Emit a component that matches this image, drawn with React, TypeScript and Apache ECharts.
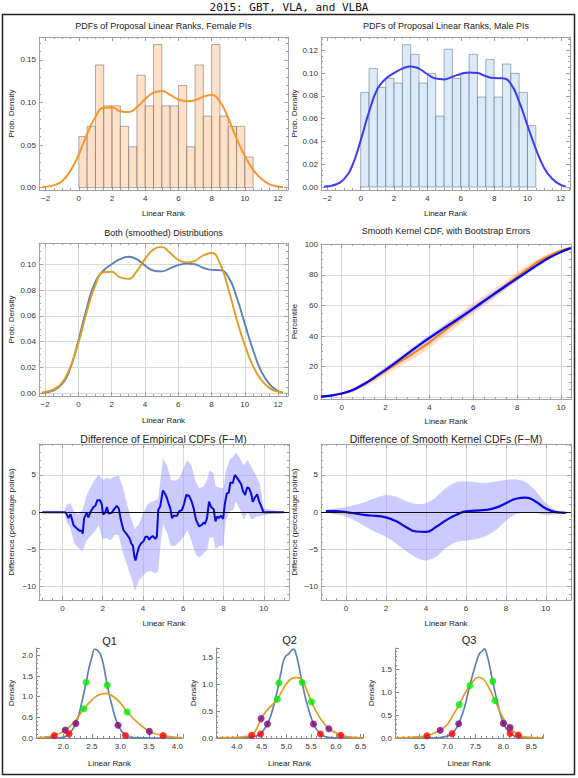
import React, { useEffect, useRef } from 'react';
import * as echarts from 'echarts';

const FONT = '"Liberation Sans", Arial, Helvetica, sans-serif';
const MONO = '"DejaVu Sans Mono", "Liberation Mono", monospace';

const SUPER_TITLE = '2015: GBT, VLA, and VLBA';
const PANEL_TITLES = [
  'PDFs of Proposal Linear Ranks, Female PIs',
  'PDFs of Proposal Linear Ranks, Male PIs',
  'Both (smoothed) Distributions',
  'Smooth Kernel CDF, with Bootstrap Errors',
  'Difference of Empirical CDFs (F\u2212M)',
  'Difference of Smooth Kernel CDFs (F\u2212M)',
  'Q1',
  'Q2',
  'Q3',
];

// ---- histograms (bin edges, densities) ----
const BIN_EDGES = [0, 0.5, 1, 1.5, 2, 2.5, 3, 3.5, 4, 4.5, 5, 5.5, 6, 6.5, 7, 7.5, 8, 8.5, 9, 9.5, 10, 10.5];
const FEMALE_HIST = [0.060, 0.072, 0.144, 0.096, 0.096, 0.072, 0.048, 0.132, 0.096, 0.168, 0.096, 0.096, 0.120, 0.048, 0.144, 0.084, 0.168, 0.084, 0.072, 0.072, 0.036];
const MALE_HIST = [0.083, 0.104, 0.0875, 0.0954, 0.0913, 0.125, 0.1165, 0.0913, 0.0998, 0.0623, 0.121, 0.0954, 0.0998, 0.1165, 0.079, 0.112, 0.079, 0.108, 0.0998, 0.083, 0.054];

// ---- smooth kernel PDFs ----
const F_X = [-2.2, -2, -1.5, -1, -0.5, 0, 0.5, 1, 1.5, 2, 2.5, 3, 3.5, 4, 4.5, 5, 5.5, 6, 6.5, 7, 7.5, 8, 8.5, 9, 9.5, 10, 10.5, 11, 11.5, 12, 12.3];
const F_PDF = [0.0005, 0.001, 0.003, 0.008, 0.02, 0.039, 0.063, 0.083, 0.0938, 0.0942, 0.0898, 0.0887, 0.0945, 0.104, 0.1115, 0.1135, 0.109, 0.1035, 0.1015, 0.1027, 0.1068, 0.1088, 0.101, 0.0815, 0.058, 0.0375, 0.021, 0.0103, 0.004, 0.0013, 0.0005];
const M_X = [-2.2, -2, -1.5, -1, -0.5, 0, 0.5, 1, 1.5, 2, 2.5, 3, 3.5, 4, 4.5, 5, 5.5, 6, 6.5, 7, 7.5, 8, 8.5, 9, 9.5, 10, 10.5, 11, 11.5, 12, 12.3];
const M_PDF = [0.0003, 0.0006, 0.0022, 0.007, 0.019, 0.041, 0.066, 0.086, 0.095, 0.1, 0.104, 0.1058, 0.104, 0.099, 0.0952, 0.0945, 0.0968, 0.0993, 0.1005, 0.1, 0.0973, 0.0957, 0.0955, 0.0906, 0.075, 0.054, 0.0336, 0.0168, 0.007, 0.0018, 0.0005];

// ---- smooth kernel CDFs with bootstrap bands (percent) ----
const CDF_X = [-0.95, -0.5, 0, 0.5, 1, 1.5, 2, 2.5, 3, 3.5, 4, 4.5, 5, 5.5, 6, 6.5, 7, 7.5, 8, 8.5, 9, 9.5, 10, 10.45];
const CDF_F = [0.4, 1.1, 2.4, 4.6, 8.2, 12.6, 17.3, 21.9, 26.3, 30.9, 35.9, 41.4, 47.0, 52.6, 58.0, 63.1, 68.2, 73.4, 78.9, 84.2, 89.0, 92.8, 95.9, 97.8];
const CDF_F_LO = [0.1, 0.6, 1.5, 3.2, 6.3, 10.3, 14.6, 18.9, 23.0, 27.4, 32.3, 37.7, 43.3, 48.9, 54.4, 59.6, 64.9, 70.3, 76.1, 81.8, 87.0, 91.3, 94.9, 97.2];
const CDF_F_HI = [0.7, 1.6, 3.3, 6.0, 10.1, 14.9, 20.0, 24.9, 29.6, 34.4, 39.5, 45.1, 50.7, 56.3, 61.6, 66.6, 71.5, 76.5, 81.7, 86.6, 91.0, 94.3, 96.9, 98.4];
const CDF_M = [0.4, 1.1, 2.5, 4.8, 8.5, 13.0, 18.0, 23.2, 28.5, 33.8, 38.8, 43.6, 48.3, 53.1, 58.0, 63.0, 68.0, 72.9, 77.7, 82.5, 87.2, 91.5, 95.0, 97.5];
const CDF_M_LO = [0.2, 0.8, 2.0, 4.0, 7.5, 11.7, 16.5, 21.5, 26.7, 31.9, 36.8, 41.6, 46.3, 51.1, 56.0, 61.1, 66.2, 71.2, 76.1, 81.1, 86.0, 90.6, 94.4, 97.1];
const CDF_M_HI = [0.6, 1.4, 3.0, 5.6, 9.5, 14.3, 19.5, 24.9, 30.3, 35.7, 40.8, 45.6, 50.3, 55.1, 60.0, 64.9, 69.8, 74.6, 79.3, 83.9, 88.4, 92.4, 95.6, 97.9];

// ---- difference of empirical CDFs (percentage points) ----
const EMP_X = [-1, 0.13, 0.22, 0.30, 0.41, 0.55, 0.68, 0.85, 0.96, 1.01, 1.08, 1.21, 1.29, 1.41, 1.54, 1.63, 1.74, 1.87, 1.96, 2.02, 2.12, 2.21, 2.29, 2.45, 2.57, 2.70, 2.80, 2.90, 3.03, 3.20, 3.33, 3.42, 3.50, 3.57, 3.63, 3.70, 3.80, 3.90, 4.03, 4.13, 4.23, 4.31, 4.39, 4.49, 4.61, 4.69, 4.76, 4.86, 4.99, 5.09, 5.19, 5.29, 5.36, 5.44, 5.52, 5.69, 5.79, 5.94, 6.05, 6.15, 6.29, 6.42, 6.52, 6.63, 6.78, 6.92, 7.01, 7.08, 7.18, 7.28, 7.38, 7.51, 7.60, 7.68, 7.76, 7.88, 7.98, 8.06, 8.16, 8.26, 8.34, 8.46, 8.56, 8.67, 8.77, 8.87, 8.97, 9.07, 9.17, 9.27, 9.37, 9.45, 9.57, 9.67, 9.77, 9.87, 9.98, 11];
const EMP_Y = [0, 0, -0.3, -0.8, -0.3, -1.7, -2.1, -2.5, -2.5, -2.9, -0.8, -0.1, -0.7, 0.1, 0.7, 0.8, 1.6, 1.6, 1.0, -0.3, -0.1, 0.7, -0.2, -0.1, 0.4, 0.85, 0.5, -1.0, -2.4, -3.0, -3.5, -4.2, -4.5, -5.9, -6.5, -5.7, -4.7, -4.2, -3.9, -3.3, -3.3, -3.7, -3.4, -3.2, -3.6, -3.3, 0.3, 0.8, 2.9, 2.5, 1.9, 1.0, 0.5, -0.8, -0.5, -0.5, 0.1, 0.3, 1.2, 2.3, 2.2, 1.4, 0.5, -1.0, -1.9, -1.7, -1.4, -1.6, -0.8, 1.4, 0.7, 0.4, -1.25, -0.6, -0.8, -0.5, -0.9, 1.0, 2.5, 2.6, 4.0, 3.9, 5.0, 4.6, 4.2, 3.8, 2.8, 2.3, 3.3, 3.2, 2.5, 1.4, 2.0, 2.4, 1.4, 0.8, 0, 0];
const EMP_BAND_X = [-1, 0.1, 0.2, 0.4, 0.6, 0.8, 1.0, 1.2, 1.4, 1.6, 1.8, 2.0, 2.2, 2.4, 2.6, 2.8, 3.0, 3.2, 3.4, 3.6, 3.8, 4.0, 4.2, 4.4, 4.6, 4.75, 4.9, 5.0, 5.2, 5.4, 5.6, 5.8, 6.0, 6.2, 6.4, 6.6, 6.8, 7.0, 7.2, 7.3, 7.5, 7.6, 7.8, 8.0, 8.1, 8.3, 8.5, 8.6, 8.8, 9.0, 9.2, 9.4, 9.6, 9.8, 10.0, 11];
const EMP_HI = [0, 0, 1.0, 1.2, 0.0, -0.3, 0.3, 2.2, 3.3, 4.3, 5.0, 4.3, 4.6, 4.5, 4.8, 4.9, 3.4, 1.2, -0.8, -2.3, -1.6, -0.2, 0.9, 1.4, 1.5, 1.8, 5.0, 7.2, 6.2, 4.3, 4.2, 4.6, 5.8, 7.0, 6.3, 4.2, 3.2, 3.4, 4.5, 5.6, 5.2, 3.5, 3.3, 3.2, 5.4, 7.0, 7.5, 8.0, 7.3, 6.3, 7.0, 6.0, 5.0, 3.8, 0.5, 0];
const EMP_LO = [0, 0, -1.3, -2.2, -4.2, -4.8, -5.3, -3.8, -3.2, -2.6, -1.8, -3.6, -3.5, -3.8, -3.0, -3.1, -5.5, -7.0, -8.6, -10.6, -9.2, -8.5, -8.0, -7.9, -8.2, -8.0, -3.6, -1.6, -2.8, -4.6, -4.5, -4.0, -3.4, -2.4, -3.8, -5.6, -6.1, -5.6, -5.0, -3.4, -3.4, -5.0, -4.5, -4.5, -1.2, 0.1, 0.4, 1.5, 0.5, -1.0, 0.0, -1.0, -0.6, -0.6, -0.4, 0];

// ---- difference of smooth kernel CDFs ----
const SM_X = [-1, -0.5, 0, 0.5, 1, 1.5, 2, 2.5, 3, 3.5, 4, 4.5, 5, 5.5, 6, 6.5, 7, 7.5, 8, 8.5, 9, 9.5, 10, 10.5, 11];
const SM_Y = [0.15, 0.15, 0.0, -0.2, -0.4, -0.5, -0.7, -1.2, -2.0, -2.6, -2.65, -2.0, -1.1, -0.4, 0.1, 0.2, 0.3, 0.6, 1.2, 1.8, 1.95, 1.4, 0.5, 0.0, -0.1];
const SM_HI = [0.3, 0.5, 0.7, 1.0, 1.4, 1.9, 2.3, 2.1, 1.5, 1.1, 1.2, 2.0, 3.2, 4.0, 4.1, 4.0, 3.9, 4.1, 4.3, 4.4, 4.0, 2.8, 1.2, 0.3, 0.0];
const SM_LO = [0.0, -0.3, -0.6, -1.2, -2.0, -2.7, -3.3, -4.2, -5.2, -6.1, -6.5, -6.0, -4.8, -4.0, -3.8, -3.6, -3.2, -2.4, -1.2, -0.3, 0.0, -0.1, -0.4, -0.3, -0.1];

// ---- quartile densities ----
const Q1_BX = [1.55, 1.9, 2.0, 2.1, 2.22, 2.3, 2.4, 2.45, 2.5, 2.55, 2.6, 2.65, 2.7, 2.77, 2.85, 2.96, 3.09, 3.2, 3.4, 4.08];
const Q1_BY = [0, 0.002, 0.015, 0.1, 0.35, 0.72, 1.35, 1.7, 1.95, 2.15, 2.12, 2.03, 1.8, 1.28, 0.8, 0.31, 0.06, 0.015, 0.001, 0];
const Q1_OX = [1.55, 1.84, 2.035, 2.2, 2.36, 2.5, 2.6, 2.75, 2.9, 3.0, 3.12, 3.3, 3.51, 3.75, 4.0, 4.08];
const Q1_OY = [0.01, 0.06, 0.19, 0.4, 0.71, 0.92, 1.03, 1.08, 0.98, 0.85, 0.63, 0.38, 0.16, 0.06, 0.015, 0.01];
const Q1_GREEN = [[2.40, 1.35], [2.77, 1.28], [2.36, 0.71], [3.12, 0.63]];
const Q1_PURPLE = [[2.22, 0.35], [2.96, 0.31], [2.035, 0.19], [3.51, 0.16]];
const Q1_RED = [[2.1, 0.10], [3.09, 0.06], [1.84, 0.06], [3.75, 0.06]];

const Q2_BX = [3.6, 4.2, 4.4, 4.48, 4.62, 4.7, 4.8, 4.85, 4.9, 4.95, 5.0, 5.05, 5.1, 5.15, 5.2, 5.25, 5.32, 5.4, 5.55, 5.69, 5.8, 6.0, 6.55];
const Q2_BY = [0, 0.005, 0.04, 0.074, 0.26, 0.45, 0.8, 1.02, 1.25, 1.45, 1.53, 1.56, 1.62, 1.65, 1.55, 1.35, 1.03, 0.7, 0.26, 0.074, 0.02, 0.003, 0];
const Q2_OX = [3.6, 4.0, 4.2, 4.3, 4.4, 4.49, 4.6, 4.7, 4.82, 4.9, 5.0, 5.1, 5.2, 5.3, 5.4, 5.51, 5.6, 5.7, 5.86, 6.0, 6.1, 6.3, 6.55];
const Q2_OY = [0.005, 0.01, 0.03, 0.05, 0.17, 0.36, 0.5, 0.6, 0.72, 0.85, 1.0, 1.1, 1.12, 1.1, 0.92, 0.67, 0.5, 0.35, 0.17, 0.1, 0.05, 0.015, 0.005];
const Q2_GREEN = [[4.85, 1.02], [5.32, 1.03], [4.82, 0.72], [5.51, 0.67]];
const Q2_PURPLE = [[4.62, 0.26], [5.55, 0.26], [4.49, 0.36], [5.86, 0.17]];
const Q2_RED = [[4.48, 0.074], [5.69, 0.074], [4.30, 0.05], [6.10, 0.05]];

const Q3_BX = [6.06, 6.8, 7.0, 7.08, 7.15, 7.2, 7.3, 7.4, 7.5, 7.57, 7.62, 7.66, 7.7, 7.75, 7.81, 7.9, 8.0, 8.12, 8.2, 8.4, 8.71];
const Q3_BY = [0, 0.005, 0.04, 0.095, 0.2, 0.31, 0.65, 1.15, 1.6, 1.84, 1.9, 1.95, 1.85, 1.6, 1.24, 0.75, 0.32, 0.1, 0.04, 0.01, 0];
const Q3_OX = [6.06, 6.4, 6.63, 6.87, 7.0, 7.1, 7.21, 7.3, 7.4, 7.5, 7.56, 7.65, 7.75, 7.85, 7.95, 8.05, 8.12, 8.27, 8.4, 8.71];
const Q3_OY = [0.005, 0.02, 0.05, 0.17, 0.3, 0.5, 0.73, 0.95, 1.15, 1.3, 1.33, 1.28, 1.08, 0.82, 0.55, 0.33, 0.23, 0.065, 0.02, 0.005];
const Q3_GREEN = [[7.40, 1.15], [7.81, 1.24], [7.21, 0.73], [7.85, 0.82]];
const Q3_PURPLE = [[7.20, 0.31], [8.0, 0.32], [6.87, 0.17], [8.12, 0.23]];
const Q3_RED = [[7.08, 0.095], [8.12, 0.10], [6.63, 0.05], [8.27, 0.065]];

// ---------------------------------------------------------------------------
const fmt = (step: number, dec: number) => (v: number) => {
  const k = v / step;
  const r = Math.round(k);
  if (Math.abs(k - r) > 1e-6) return '';
  const s = (r * step).toFixed(dec);
  return s.charAt(0) === '-' ? '\u2212' + s.slice(1) : s;
};

type Ax = { min: number; max: number; split: number; step: number; dec: number; minor: number; grid?: boolean; name?: string; gap?: number };

const FRAME_COL = '#a2a2a2';
const OPEN_COL = '#8a8a8a';

function axis(gi: number, a: Ax, pos: string, primary: boolean, open = false) {
  const isY = pos === 'left' || pos === 'right';
  const col = open ? OPEN_COL : FRAME_COL;
  return {
    type: 'value',
    gridIndex: gi,
    position: pos,
    min: a.min,
    max: a.max,
    splitNumber: a.split,
    axisLine: { show: true, onZero: false, lineStyle: { color: col, width: 1 } },
    axisTick: { show: true, inside: true, length: 4, lineStyle: { color: col, width: 1 } },
    minorTick: { show: true, splitNumber: a.minor, length: 2, lineStyle: { color: col, width: 1 } },
    axisLabel: { show: primary, formatter: fmt(a.step, a.dec), fontSize: 8, color: '#333', fontFamily: FONT, margin: isY ? 3 : 4 },
    splitLine: { show: primary && !!a.grid, lineStyle: { color: '#d9d9d9', width: 1 } },
    name: primary && a.name ? a.name : '',
    nameLocation: 'middle',
    nameGap: a.gap ?? 20,
    nameRotate: isY ? 90 : 0,
    nameTextStyle: { fontSize: 8, color: '#222', fontFamily: FONT },
  };
}

function buildOption() {
  const grid: any[] = [];
  const xAxis: any[] = [];
  const yAxis: any[] = [];
  const series: any[] = [];

  const addPanel = (rect: number[], xa: Ax, ya: Ax, open = false) => {
    const gi = grid.length;
    grid.push({ left: rect[0], top: rect[1], width: rect[2], height: rect[3] });
    const xi = xAxis.length;
    const yi = yAxis.length;
    xAxis.push(axis(gi, xa, 'bottom', true, open));
    yAxis.push(axis(gi, ya, 'left', true, open));
    if (!open) {
      xAxis.push(axis(gi, xa, 'top', false));
      yAxis.push(axis(gi, ya, 'right', false));
    }
    return { xi, yi };
  };

  const line = (p: any, X: number[], Y: number[], color: string, width: number, smooth: any, z = 3) => ({
    type: 'line', xAxisIndex: p.xi, yAxisIndex: p.yi,
    data: X.map((x, i) => [x, Y[i]]),
    showSymbol: false, symbol: 'none', smooth,
    lineStyle: { color, width }, itemStyle: { color }, silent: true, z,
  });

  const hist = (p: any, H: number[], fill: string, stroke: string) => ({
    type: 'custom', xAxisIndex: p.xi, yAxisIndex: p.yi, silent: true, z: 1,
    data: H.map((h, i) => [BIN_EDGES[i], BIN_EDGES[i + 1], h]),
    encode: { x: [0, 1], y: 2 },
    renderItem: (_params: any, api: any) => {
      const a = api.coord([api.value(0), api.value(2)]);
      const b = api.coord([api.value(1), 0]);
      return {
        type: 'rect',
        shape: { x: a[0], y: a[1], width: b[0] - a[0], height: b[1] - a[1] },
        style: { fill, stroke, lineWidth: 1 },
      };
    },
  });

  const band = (p: any, X: number[], LO: number[], HI: number[], fill: string, smooth: number, z = 1) => ({
    type: 'custom', xAxisIndex: p.xi, yAxisIndex: p.yi, silent: true, z,
    data: X.map((x, i) => [x, LO[i], HI[i]]),
    encode: { x: 0, y: [1, 2] },
    renderItem: (params: any, api: any) => {
      if (params.dataIndex !== 0) return { type: 'group', children: [] };
      const top = X.map((x, i) => api.coord([x, HI[i]]));
      const bot = X.map((x, i) => api.coord([x, LO[i]])).reverse();
      return { type: 'polygon', shape: { points: top.concat(bot), smooth }, style: { fill } };
    },
  });

  const dots = (p: any, D: number[][], color: string) => ({
    type: 'scatter', xAxisIndex: p.xi, yAxisIndex: p.yi, data: D, symbolSize: 7,
    itemStyle: { color }, silent: true, z: 5,
  });

  // Panel 1: female histogram
  const p1 = addPanel([39, 37, 249, 153],
    { min: -2.4, max: 12.6, split: 7, step: 2, dec: 0, minor: 4, name: 'Linear Rank', gap: 19 },
    { min: -0.0027, max: 0.1768, split: 4, step: 0.05, dec: 2, minor: 5, name: 'Prob. Density', gap: 24 });
  series.push(hist(p1, FEMALE_HIST, 'rgba(253,214,178,0.72)', 'rgba(95,95,95,0.5)'));
  series.push(line(p1, F_X, F_PDF, '#f7952e', 2, 0.5));

  // Panel 2: male histogram
  const p2 = addPanel([321, 37, 249, 153],
    { min: -2.38, max: 12.55, split: 7, step: 2, dec: 0, minor: 4, name: 'Linear Rank', gap: 19 },
    { min: -0.0026, max: 0.1317, split: 6, step: 0.02, dec: 2, minor: 4, name: 'Prob. Density', gap: 23 });
  series.push(hist(p2, MALE_HIST, 'rgba(204,226,247,0.72)', 'rgba(95,100,110,0.5)'));
  series.push(line(p2, M_X, M_PDF, '#3c3cf5', 2, 0.5));

  // Panel 3: both smoothed
  const p3 = addPanel([39, 243, 249, 153],
    { min: -2.37, max: 12.6, split: 7, step: 2, dec: 0, minor: 4, grid: true, name: 'Linear Rank', gap: 20 },
    { min: -0.0021, max: 0.1165, split: 6, step: 0.02, dec: 2, minor: 4, grid: true, name: 'Prob. Density', gap: 24 });
  series.push(line(p3, M_X, M_PDF, '#5e81b5', 1.9, 0.5, 3));
  series.push(line(p3, F_X, F_PDF, '#e19c24', 1.9, 0.5, 4));

  // Panel 4: CDFs
  const p4 = addPanel([321, 244, 250, 155],
    { min: -0.946, max: 10.457, split: 5, step: 2, dec: 0, minor: 4, grid: true, name: 'Linear Rank', gap: 18 },
    { min: -1.1, max: 100.2, split: 5, step: 20, dec: 0, minor: 4, grid: true, name: 'Percentile', gap: 23 });
  series.push(band(p4, CDF_X, CDF_F_LO, CDF_F_HI, 'rgba(255,170,100,0.35)', 0.3, 1));
  series.push(band(p4, CDF_X, CDF_M_LO, CDF_M_HI, 'rgba(110,110,255,0.30)', 0.3, 2));
  series.push(line(p4, CDF_X, CDF_F, '#ff7f0e', 2, 0.4, 3));
  series.push(line(p4, CDF_X, CDF_M, '#0000ff', 2.2, 0.4, 4));

  // Panel 5: empirical difference
  const p5 = addPanel([39, 444, 250, 156],
    { min: -1.16, max: 11.25, split: 6, step: 2, dec: 0, minor: 4, grid: true, name: 'Linear Rank', gap: 19 },
    { min: -11.8, max: 9.15, split: 4, step: 5, dec: 0, minor: 5, grid: true, name: 'Difference (percentage points)', gap: 24 });
  series.push(band(p5, EMP_BAND_X, EMP_LO, EMP_HI, 'rgba(140,140,255,0.45)', 0, 1));
  series.push({
    ...line(p5, EMP_X, EMP_Y, '#0a0ae0', 2, false, 4),
    markLine: { silent: true, symbol: 'none', label: { show: false }, lineStyle: { color: '#111', width: 1, type: 'solid' }, data: [{ yAxis: 0 }] },
  });

  // Panel 6: smooth kernel difference
  const p6 = addPanel([321, 444, 250, 156],
    { min: -1.25, max: 11.26, split: 6, step: 2, dec: 0, minor: 4, grid: true, name: 'Linear Rank', gap: 19 },
    { min: -11.8, max: 9.15, split: 4, step: 5, dec: 0, minor: 5, grid: true, name: 'Difference (percentage points)', gap: 23 });
  series.push(band(p6, SM_X, SM_LO, SM_HI, 'rgba(140,140,255,0.45)', 0.3, 1));
  series.push({
    ...line(p6, SM_X, SM_Y, '#0a0ae0', 2.2, 0.5, 4),
    markLine: { silent: true, symbol: 'none', label: { show: false }, lineStyle: { color: '#111', width: 1, type: 'solid' }, data: [{ yAxis: 0 }] },
  });

  // Quartile panels
  const qPanels = [
    { rect: [36, 648, 147, 90], x: { min: 1.52, max: 4.1 }, y: { max: 2.18 }, gap: 21, B: [Q1_BX, Q1_BY], O: [Q1_OX, Q1_OY], G: Q1_GREEN, P: Q1_PURPLE, R: Q1_RED },
    { rect: [216, 648, 147, 90], x: { min: 3.58, max: 6.55 }, y: { max: 1.67 }, gap: 19, B: [Q2_BX, Q2_BY], O: [Q2_OX, Q2_OY], G: Q2_GREEN, P: Q2_PURPLE, R: Q2_RED },
    { rect: [395, 648, 148, 90], x: { min: 6.06, max: 8.71 }, y: { max: 1.97 }, gap: 20, B: [Q3_BX, Q3_BY], O: [Q3_OX, Q3_OY], G: Q3_GREEN, P: Q3_PURPLE, R: Q3_RED },
  ];
  qPanels.forEach((q) => {
    const p = addPanel(q.rect,
      { min: q.x.min, max: q.x.max, split: 5, step: 0.5, dec: 1, minor: 5, name: 'Linear Rank', gap: 21 },
      { min: 0, max: q.y.max, split: 4, step: 0.5, dec: 1, minor: 5, name: 'Density', gap: q.gap }, true);
    series.push(line(p, q.B[0], q.B[1], '#5e81b5', 1.7, 0.4, 3));
    series.push(line(p, q.O[0], q.O[1], '#e19c24', 1.7, 0.4, 4));
    series.push(dots(p, q.G, '#00ee00'));
    series.push(dots(p, q.P, '#7f007f'));
    series.push(dots(p, q.R, '#ff0000'));
  });

  const titlePos = [
    [163.5, 26, 9], [446, 26, 9], [163.5, 233, 9], [446, 231, 9],
    [163.5, 439, 10.5], [446, 439, 10.5], [109.5, 641, 11], [289.5, 640, 11], [469, 640, 11],
  ];
  const txt = (text: string, x: number, y: number, font: string, fill = '#222') => ({
    type: 'text', x, y, silent: true,
    style: { text, font, fill, textAlign: 'center', textVerticalAlign: 'middle', align: 'center', verticalAlign: 'middle' },
  });
  const graphic: any[] = [
    { type: 'rect', silent: true, shape: { x: 2.5, y: 14.5, width: 572, height: 760 }, style: { fill: 'rgba(0,0,0,0)', stroke: '#222', lineWidth: 1.5 } },
    txt(SUPER_TITLE, 289, 7, `11px ${MONO}`, '#111'),
    ...PANEL_TITLES.map((t, i) => txt(t, titlePos[i][0], titlePos[i][1], `${titlePos[i][2]}px ${FONT}`)),
  ];

  return {
    animation: false,
    backgroundColor: '#fff',
    textStyle: { fontFamily: FONT },
    grid, xAxis, yAxis, series, graphic,
  };
}

export default function App() {
  const ref = useRef<HTMLDivElement>(null);
  useEffect(() => {
    if (!ref.current) return;
    const chart = echarts.init(ref.current, null, { renderer: 'svg' });
    chart.setOption(buildOption() as any);
    return () => chart.dispose();
  }, []);
  return <div ref={ref} style={{ position: 'absolute', left: 0, top: 0, width: 578, height: 778 }} />;
}
